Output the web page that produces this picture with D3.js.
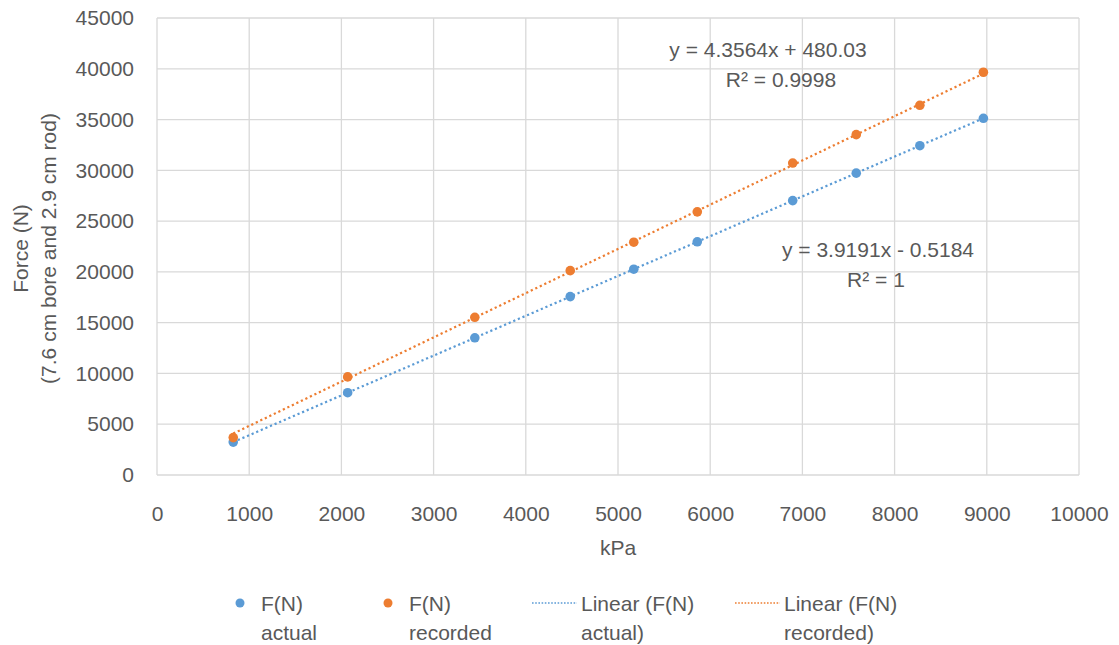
<!DOCTYPE html>
<html>
<head>
<meta charset="utf-8">
<script src="https://cdn.jsdelivr.net/npm/d3@7"></script>
<style>
  html, body { margin: 0; padding: 0; background: #fff; }
  svg { display: block; }
  text { font-family: "Liberation Sans", Arial, sans-serif; fill: #595959; }
</style>
</head>
<body>
<svg id="chart" width="1119" height="645"></svg>
<script>
// Pressure (kPa) and measured cylinder force (N)
const pressureKPa   = [827, 2068, 3447, 4482, 5171, 5860, 6895, 7584, 8274, 8963];
const forceActual   = [3240, 8104, 13509, 17565, 20265, 22965, 27021, 29722, 32426, 35126];
const forceRecorded = [3681, 9661, 15530, 20121, 22923, 25913, 30720, 33512, 36403, 39659];

// Linear trendline coefficients [slope, intercept]
const fitActual   = [3.9191, -0.5184];
const fitRecorded = [4.3564, 480.03];
const eqActual    = ["y = 3.9191x - 0.5184", "R² = 1"];
const eqRecorded  = ["y = 4.3564x + 480.03", "R² = 0.9998"];

const xTicks = [0, 1000, 2000, 3000, 4000, 5000, 6000, 7000, 8000, 9000, 10000];
const yTicks = [0, 5000, 10000, 15000, 20000, 25000, 30000, 35000, 40000, 45000];

const legendItems = [
  { kind: "dot",  color: "#5b9bd5", lines: ["F(N)", "actual"] },
  { kind: "dot",  color: "#ed7d31", lines: ["F(N)", "recorded"] },
  { kind: "line", color: "#5b9bd5", lines: ["Linear (F(N)", "actual)"] },
  { kind: "line", color: "#ed7d31", lines: ["Linear (F(N)", "recorded)"] }
];

const svg = d3.select("#chart");
const plot = { left: 157, right: 1079, top: 18, bottom: 475 };

const x = d3.scaleLinear().domain([0, 10000]).range([plot.left, plot.right]);
const y = d3.scaleLinear().domain([0, 45000]).range([plot.bottom, plot.top]);

const gridColor = "#d9d9d9";
const fontSize = 21;

// Gridlines
svg.append("g").selectAll("line").data(xTicks).join("line")
  .attr("x1", d => x(d)).attr("x2", d => x(d))
  .attr("y1", plot.top).attr("y2", plot.bottom)
  .attr("stroke", gridColor).attr("stroke-width", 1.3);
svg.append("g").selectAll("line").data(yTicks).join("line")
  .attr("x1", plot.left).attr("x2", plot.right)
  .attr("y1", d => y(d)).attr("y2", d => y(d))
  .attr("stroke", gridColor).attr("stroke-width", 1.3);

// Axes (tick labels only)
const xAxis = svg.append("g")
  .attr("transform", `translate(0,${plot.bottom})`)
  .call(d3.axisBottom(x).tickValues(xTicks).tickFormat(d3.format("d")).tickSize(0).tickPadding(31));
const yAxis = svg.append("g")
  .attr("transform", `translate(${plot.left},0)`)
  .call(d3.axisLeft(y).tickValues(yTicks).tickFormat(d3.format("d")).tickSize(0).tickPadding(23));
[xAxis, yAxis].forEach(g => {
  g.select(".domain").remove();
  g.selectAll("text").attr("font-size", fontSize).attr("font-family", null).attr("fill", "#595959");
});

// Axis titles
svg.append("text").attr("x", (plot.left + plot.right) / 2).attr("y", 555)
  .attr("text-anchor", "middle").attr("font-size", fontSize).text("kPa");
const yTitle = svg.append("text")
  .attr("transform", `translate(28,${(plot.top + plot.bottom) / 2 + 2}) rotate(-90)`)
  .attr("text-anchor", "middle").attr("font-size", fontSize);
yTitle.append("tspan").attr("x", 0).attr("dy", 0).text("Force (N)");
yTitle.append("tspan").attr("x", 0).attr("dy", 28).text("(7.6 cm bore and 2.9 cm rod)");

// Trendlines over the data range
function trend(fit) {
  const [m, b] = fit;
  const x0 = d3.min(pressureKPa), x1 = d3.max(pressureKPa);
  return [[x0, m * x0 + b], [x1, m * x1 + b]];
}
const lineGen = d3.line().x(d => x(d[0])).y(d => y(d[1]));
[[fitActual, "#5b9bd5"], [fitRecorded, "#ed7d31"]].forEach(([fit, c]) => {
  svg.append("path").attr("d", lineGen(trend(fit)))
    .attr("fill", "none").attr("stroke", c).attr("stroke-width", 2.2)
    .attr("stroke-dasharray", "2.2,2.8");
});

// Points
[[forceActual, "#5b9bd5"], [forceRecorded, "#ed7d31"]].forEach(([vals, c]) => {
  svg.append("g").selectAll("circle").data(pressureKPa).join("circle")
    .attr("cx", d => x(d)).attr("cy", (d, i) => y(vals[i]))
    .attr("r", 4.8).attr("fill", c);
});

// Trendline equations
function equation(lines, cx, y0, dx2) {
  const t = svg.append("text").attr("text-anchor", "middle").attr("font-size", fontSize);
  t.append("tspan").attr("x", cx).attr("y", y0).text(lines[0]);
  t.append("tspan").attr("x", cx + dx2).attr("y", y0 + 30).text(lines[1]);
}
equation(eqRecorded, 768, 57, 13);
equation(eqActual, 878, 257, -2);

// Legend
const legendX = [240, 388, 532, 735];
legendItems.forEach((item, i) => {
  const g = svg.append("g").attr("transform", `translate(${legendX[i]},603)`);
  let textX;
  if (item.kind === "dot") {
    g.append("circle").attr("cx", 0).attr("cy", 0).attr("r", 4.5).attr("fill", item.color);
    textX = 21;
  } else {
    g.append("line").attr("x1", 0).attr("x2", 45).attr("y1", 0).attr("y2", 0)
      .attr("stroke", item.color).attr("stroke-width", 1.6).attr("stroke-dasharray", "1.6,1.6");
    textX = 49;
  }
  const t = g.append("text").attr("font-size", fontSize);
  t.append("tspan").attr("x", textX).attr("y", 8).text(item.lines[0]);
  t.append("tspan").attr("x", textX).attr("y", 37).text(item.lines[1]);
});
</script>
</body>
</html>
